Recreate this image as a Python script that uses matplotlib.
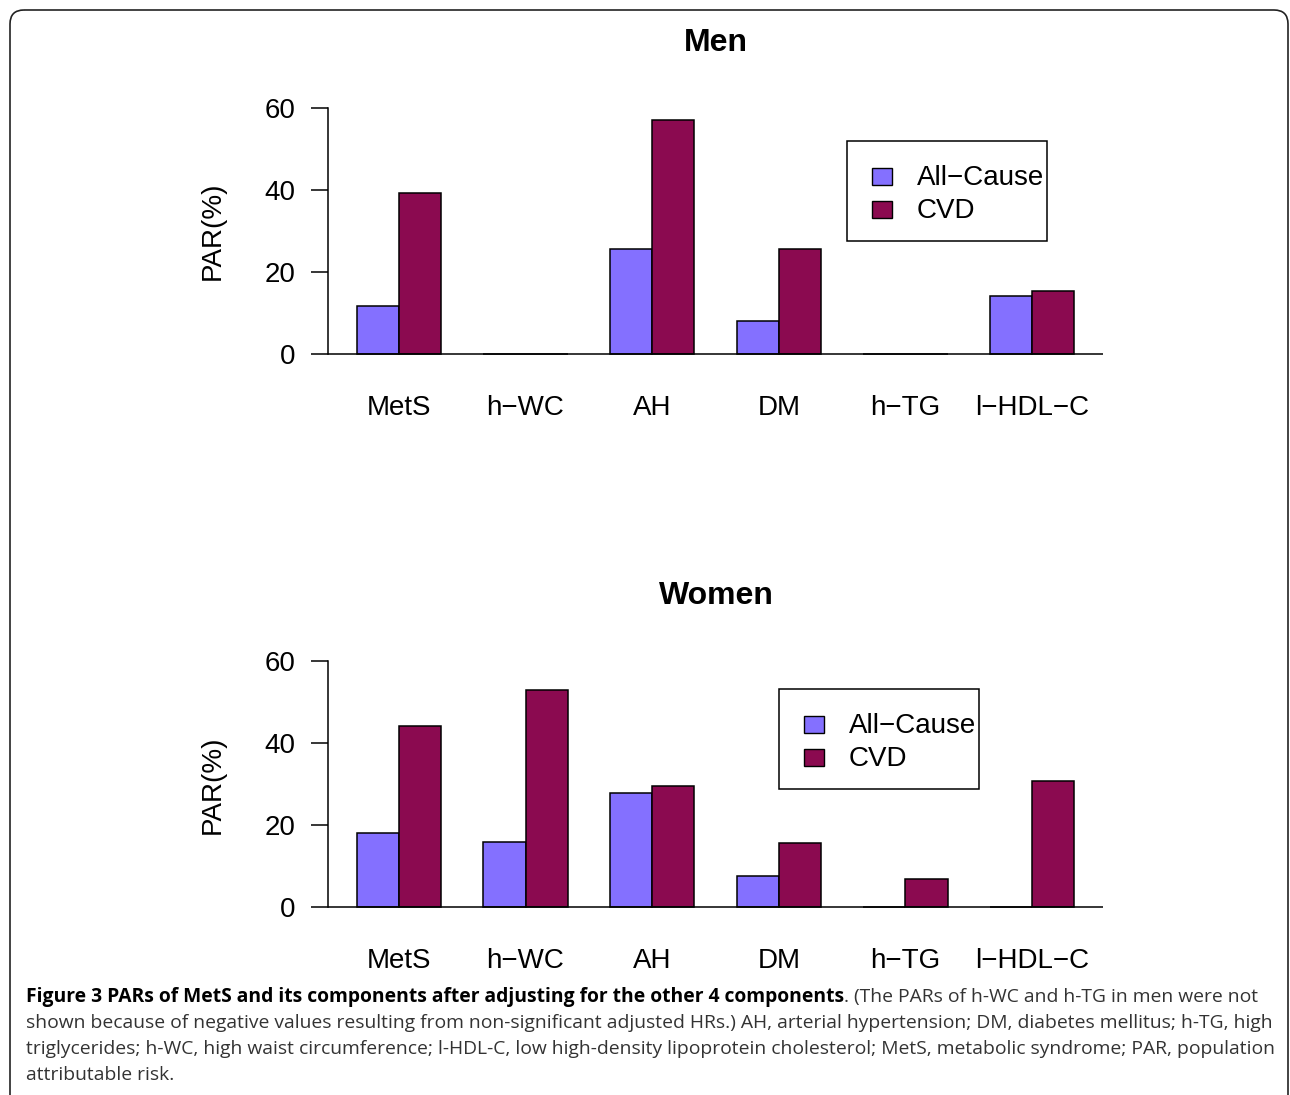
import numpy as np
import matplotlib
matplotlib.use('Agg')
from matplotlib import pyplot as plt
from matplotlib.patches import Rectangle, FancyBboxPatch
from matplotlib.transforms import Affine2D

categories = ['MetS', 'h\u2212WC', 'AH', 'DM', 'h\u2212TG', 'l\u2212HDL\u2212C']
series = ['All\u2212Cause', 'CVD']
colors = ['#8470FF', '#8B0A50']

men_all = [11.7, 0, 25.5, 8.0, 0, 14.1]
men_cvd = [39.2, 0, 57.0, 25.7, 0, 15.4]
women_all = [18.2, 16.0, 27.9, 7.7, 0, 0]
women_cvd = [44.2, 53.1, 29.7, 15.7, 6.9, 30.8]

W, H = 1290, 1095
fig = plt.figure(figsize=(W / 100, H / 100), dpi=100)
# pixel coords measured from the top-left corner
px = Affine2D().scale(1 / W, -1 / H).translate(0, 1) + fig.transFigure

plt.rcParams['font.family'] = ['Liberation Sans', 'DejaVu Sans']
FS = 20


def panel(zero_px, title, title_y, vals_all, vals_cvd, leg_x, leg_y):
    # 4.1 px per unit, R style 4% padding on the limits
    ppu = 4.1
    ylo, yhi = -2.4, 62.4
    top = zero_px - yhi * ppu
    bottom = zero_px - ylo * ppu
    ax = fig.add_axes([328 / W, 1 - bottom / H, (1103 - 328) / W, (bottom - top) / H])
    x = np.arange(len(categories)) * 3 + 2
    ax.bar(x - 0.5, vals_all, width=1, color=colors[0], edgecolor='black', linewidth=1.1)
    ax.bar(x + 0.5, vals_cvd, width=1, color=colors[1], edgecolor='black', linewidth=1.1)
    ax.axhline(0, color='black', linewidth=1.1)
    ax.set_xlim(0.32, 18.68)
    ax.set_ylim(ylo, yhi)
    for s in ['top', 'right', 'bottom']:
        ax.spines[s].set_visible(False)
    ax.spines['left'].set_bounds(0, 60)
    ax.spines['left'].set_linewidth(1.1)
    ax.set_yticks([0, 20, 40, 60])
    ax.tick_params(axis='y', length=12.2, width=1.1, pad=11.5, labelsize=FS)
    ax.set_xticks(x)
    ax.set_xticklabels(categories)
    ax.tick_params(axis='x', length=0, pad=22.5, labelsize=FS)
    fig.text(213, (top + bottom) / 2, 'PAR(%)', transform=px, rotation=90,
             ha='center', va='center', fontsize=FS)
    fig.text(716, title_y, title, transform=px, ha='center', va='center',
             fontsize=23, fontweight='bold')

    # legend box, drawn the way R does it
    fig.patches.append(Rectangle((leg_x, leg_y), 200, 100, transform=px,
                                 facecolor='white', edgecolor='black', linewidth=1.1))
    for i, (lab, c) in enumerate(zip(series, colors)):
        yy = leg_y + 35 + i * 33
        fig.patches.append(Rectangle((leg_x + 25, yy - 8.5), 20, 17, transform=px,
                                     facecolor=c, edgecolor='black', linewidth=1.0))
        fig.text(leg_x + 70, yy + 2, lab, transform=px, ha='left', va='center', fontsize=FS)
    return ax


panel(354, 'Men', 43, men_all, men_cvd, 847, 141)
panel(907.3, 'Women', 596, women_all, women_cvd, 779, 689)

# outer rounded frame
fig.patches.append(FancyBboxPatch((10, 10), 1278, 1110, transform=px,
                                  boxstyle='round,pad=0,rounding_size=14',
                                  facecolor='none', edgecolor='#222222', linewidth=1.2))

# caption
bold_part = 'Figure 3 PARs of MetS and its components after adjusting for the other 4 components'
lines = [
    '. (The PARs of h-WC and h-TG in men were not',
    'shown because of negative values resulting from non-significant adjusted HRs.) AH, arterial hypertension; DM, diabetes mellitus; h-TG, high',
    'triglycerides; h-WC, high waist circumference; l-HDL-C, low high-density lipoprotein cholesterol; MetS, metabolic syndrome; PAR, population',
    'attributable risk.',
]
cap_font = ['Open Sans', 'DejaVu Sans']
r = fig.canvas.get_renderer()
t1 = fig.text(26, 997, bold_part, transform=px, fontsize=13, fontweight='bold',
              family=cap_font, va='center', color='black')
t2 = fig.text(0, 997, lines[0], transform=px, fontsize=13, family=cap_font,
              va='center', color='#333333')
rest = []
for i, ln in enumerate(lines[1:]):
    rest.append(fig.text(26, 1023 + 26 * i, ln, transform=px, fontsize=13,
                         family=cap_font, va='center', color='#333333'))
# fit the widest line inside the frame
w1 = t1.get_window_extent(r).width + t2.get_window_extent(r).width
w3 = rest[1].get_window_extent(r).width
cs = 13 * min(1251 / w1, 1240 / w3)
for t in [t1, t2] + rest:
    t.set_fontsize(cs)
t2.set_position((26 + t1.get_window_extent(r).width, 997))

fig.savefig('out.png', dpi=100)
